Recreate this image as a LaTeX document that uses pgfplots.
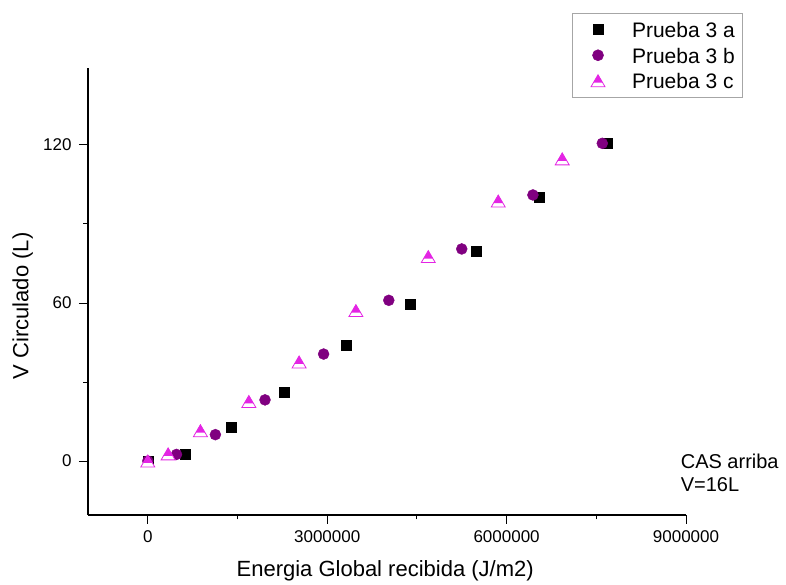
\documentclass[border=0pt]{standalone}
\usepackage{fontspec}
\setmainfont{Liberation Sans}
\usepackage{pgfplots}
\pgfplotsset{compat=1.18}

\definecolor{violeta}{RGB}{128,0,128}
\definecolor{tri}{RGB}{228,36,228}

% triangle whose upper part is filled and lower part is left white
\pgfdeclareplotmark{halftri}{%
  \pgfsetfillcolor{white}%
  \pgfpathmoveto{\pgfqpoint{0pt}{1.2\pgfplotmarksize}}%
  \pgfpathlineto{\pgfqpoint{-1.4\pgfplotmarksize}{-1.2\pgfplotmarksize}}%
  \pgfpathlineto{\pgfqpoint{1.4\pgfplotmarksize}{-1.2\pgfplotmarksize}}%
  \pgfpathclose
  \pgfusepathqfillstroke
  \pgfsetfillcolor{tri}%
  \pgfpathmoveto{\pgfqpoint{0pt}{1.2\pgfplotmarksize}}%
  \pgfpathlineto{\pgfqpoint{-0.93\pgfplotmarksize}{-0.4\pgfplotmarksize}}%
  \pgfpathlineto{\pgfqpoint{0.93\pgfplotmarksize}{-0.4\pgfplotmarksize}}%
  \pgfpathclose
  \pgfusepathqfill
}

\begin{document}
\begin{tikzpicture}
\begin{axis}[
  name=ax,
  scale only axis,
  width=598pt, height=447pt,
  xmin=-1000000, xmax=9000000,
  ymin=-20.5, ymax=149.2,
  axis x line*=bottom, axis y line*=left,
  axis line style={-, line width=1.1pt, black},
  tick align=outside,
  major tick length=9pt, minor tick length=4.5pt,
  tick style={black, line width=0.9pt},
  xtick={0,3000000,6000000,9000000},
  xticklabels={0,3000000,6000000,9000000},
  minor xtick={1500000,4500000,7500000},
  ytick={0,60,120},
  minor ytick={30,90},
  scaled x ticks=false,
  /pgf/number format/assume math mode=true,
  tick label style={font=\fontsize{17}{19}\selectfont},
  xticklabel style={yshift=-3pt},
  yticklabel style={xshift=-4pt},
  xlabel={Energia Global recibida (J/m2)},
  ylabel={V Circulado (L)},
  label style={font=\fontsize{22}{24}\selectfont},
  xlabel style={at={(axis description cs:0.497,-0.138)}, anchor=base},
  ylabel style={at={(axis description cs:-0.0998,0.4676)}, anchor=base, rotate=0},
  legend cell align=left,
  legend image code/.code={%
    \path[draw=none] (0pt,0pt) -- (28pt,0pt);
    \draw[#1, only marks] plot coordinates {(21pt,0pt)};
  },
  legend style={
    at={(axis description cs:0.8089,1.1237)}, anchor=north west,
    draw=gray!70, line width=0.6pt,
    font=\fontsize{21}{25}\selectfont,
    nodes={text height=18pt, text depth=1.5pt, inner sep=3pt},
    inner xsep=5pt, inner ysep=4pt,
  },
  clip=false,
]
\addplot[only marks, mark=square*, mark size=5pt, black, mark options={fill=black}]
  coordinates {
  (0,0) (620000,2.7) (1390000,12.7) (2280000,26.3) (3310000,43.8)
  (4390000,59.7) (5490000,79.5) (6550000,100.2) (7690000,120.6)
  };
\addlegendentry{\hspace{24pt}Prueba 3 a}
\addplot[only marks, mark=*, mark size=5.5pt, violeta, mark options={fill=violeta}]
  coordinates {
  (0,0) (480000,2.5) (1130000,10.0) (1960000,23.2) (2940000,40.6)
  (4030000,61.0) (5250000,80.5) (6440000,101.0) (7600000,120.6)
  };
\addlegendentry{\hspace{24pt}Prueba 3 b}
\addplot[only marks, mark=halftri, mark size=5pt, tri, mark options={draw=tri, line width=0.8pt}]
  coordinates {
  (0,0) (340000,2.7) (880000,11.5) (1690000,22.6) (2530000,37.6)
  (3480000,57.1) (4690000,77.6) (5860000,98.7) (6930000,114.7)
  };
\addlegendentry{\hspace{24pt}Prueba 3 c}
\node[anchor=base west, font=\fontsize{20}{23}\selectfont, inner sep=0pt]
  at (axis description cs:0.991,0.1045) {CAS arriba};
\node[anchor=base west, font=\fontsize{20}{23}\selectfont, inner sep=0pt]
  at (axis description cs:0.991,0.0522) {V=16L};
\end{axis}
% page frame
\useasboundingbox ([xshift=-88pt,yshift=-65pt]ax.south west) rectangle ([xshift=100pt,yshift=68pt]ax.north east);
\end{tikzpicture}
\end{document}
